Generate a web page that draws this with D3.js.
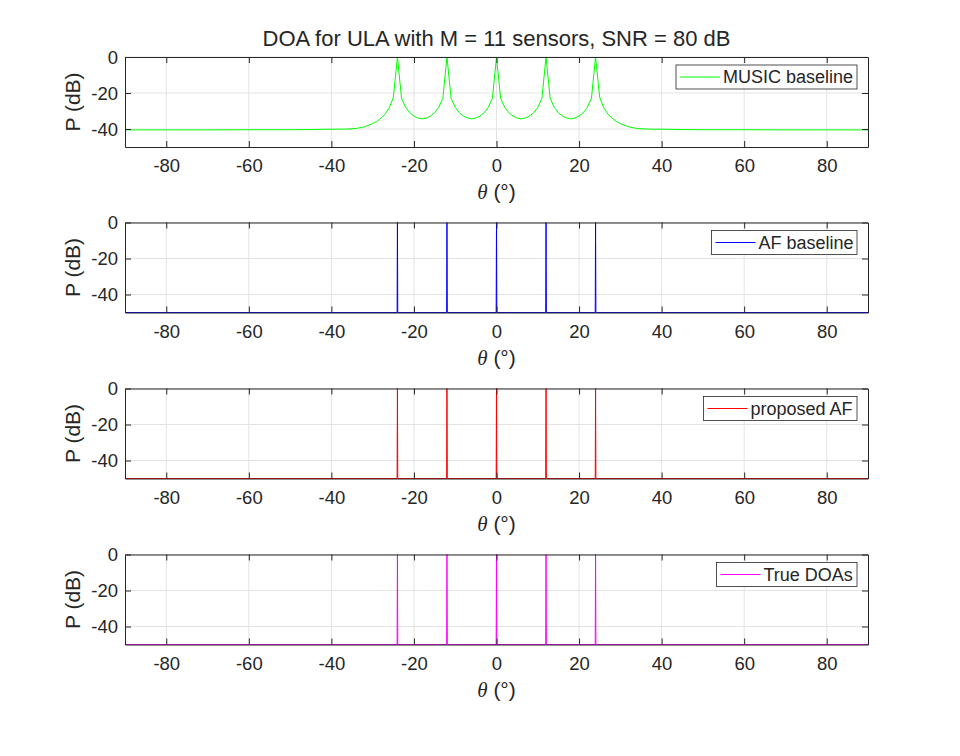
<!DOCTYPE html>
<html>
<head>
<meta charset="utf-8">
<script src="https://cdn.jsdelivr.net/npm/d3@7"></script>
<style>
  body { margin: 0; background: #fff; }
  svg text { font-family: "Liberation Sans", Arial, Helvetica, sans-serif; fill: #262626; }
</style>
</head>
<body>
<script>
// MUSIC pseudo-spectrum (deg, dB)
const musicTheta = [-90, -80, -70, -60, -50, -45, -40, -38, -36, -34, -32, -30, -29, -28, -27, -26, -25, -24,
  -23, -22, -21, -20, -19, -18, -17, -16, -15, -14, -13, -12,
  -11, -10, -9, -8, -7, -6, -5, -4, -3, -2, -1, 0,
  1, 2, 3, 4, 5, 6, 7, 8, 9, 10, 11, 12,
  13, 14, 15, 16, 17, 18, 19, 20, 21, 22, 23, 24,
  25, 26, 27, 28, 29, 30, 32, 34, 36, 38, 40, 45, 50, 60, 70, 80, 90];
const musicP = [-40.5, -40.5, -40.5, -40.4, -40.4, -40.3, -40.1, -40.1, -40.0, -39.7, -38.8, -37.0, -35.8, -34.0, -31.8, -28.3, -22.5, 0,
  -23, -28, -31, -32.8, -33.9, -34.4, -33.9, -32.8, -31, -28, -23, 0,
  -23, -28, -31, -32.8, -33.9, -34.4, -33.9, -32.8, -31, -28, -23, 0,
  -23, -28, -31, -32.8, -33.9, -34.4, -33.9, -32.8, -31, -28, -23, 0,
  -23, -28, -31, -32.8, -33.9, -34.4, -33.9, -32.8, -31, -28, -23, 0,
  -22.5, -28.3, -31.8, -34.0, -35.8, -37.0, -38.8, -39.7, -40.0, -40.1, -40.1, -40.3, -40.4, -40.4, -40.5, -40.5, -40.5];

// spike spectra: peak at each DOA, floor elsewhere
const afBaselineDoas = [-24, -12, 0, 12, 24];
const proposedAfDoas = [-24, -12, 0, 12, 24];
const trueDoas = [-24, -12, 0, 12, 24];
const floorDb = -50;
const peakDb = 0;

const xTicks = [-80, -60, -40, -20, 0, 20, 40, 60, 80];
const yTicks = [-40, -20, 0];

const w = 960, h = 756;
const left = 125, right = 868;
const tops = [57, 222.5, 388.5, 554.5];
const ph = 90;

function spikes(doas) {
  let pts = [[-90, floorDb]];
  doas.forEach(d => {
    pts.push([d - 0.08, floorDb]);
    pts.push([d, peakDb]);
    pts.push([d + 0.08, floorDb]);
  });
  pts.push([90, floorDb]);
  return pts;
}

const panels = [
  { name: "MUSIC baseline", color: "#00ff00", data: musicTheta.map((t, i) => [t, musicP[i]]), legX: 676 },
  { name: "AF baseline", color: "#0000ff", data: spikes(afBaselineDoas), legX: 711.5 },
  { name: "proposed AF", color: "#ff0000", data: spikes(proposedAfDoas), legX: 703.5 },
  { name: "True DOAs", color: "#ff00ff", data: spikes(trueDoas), legX: 716.5 }
];

const svg = d3.select("body").append("svg")
  .attr("width", w)
  .attr("height", h);

let xScale = d3.scaleLinear().domain([-90, 90]).range([left, right]);
const fmt = d => String(d);

svg.append("text")
  .attr("x", (left + right) / 2)
  .attr("y", 46)
  .attr("text-anchor", "middle")
  .style("font-size", "22px")
  .text("DOA for ULA with M = 11 sensors, SNR = 80 dB");

panels.forEach((p, k) => {
  const top = tops[k];
  let yScale = d3.scaleLinear().domain([-50, 0]).range([top + ph, top]);
  const g = svg.append("g");

  // grid
  g.selectAll(".gx").data(xTicks).enter().append("line")
    .attr("x1", d => xScale(d)).attr("x2", d => xScale(d))
    .attr("y1", top).attr("y2", top + ph)
    .attr("stroke", "#e3e3e3").attr("stroke-width", 1);
  g.selectAll(".gy").data(yTicks).enter().append("line")
    .attr("x1", left).attr("x2", right)
    .attr("y1", d => yScale(d)).attr("y2", d => yScale(d))
    .attr("stroke", "#e3e3e3").attr("stroke-width", 1);

  // curve
  g.append("path")
    .datum(p.data)
    .attr("fill", "none")
    .attr("stroke", p.color)
    .attr("stroke-width", 1)
    .attr("d", d3.line().x(d => xScale(d[0])).y(d => yScale(d[1])));

  // axes (box, inward ticks)
  const axB = g.append("g").attr("transform", "translate(0," + (top + ph) + ")")
    .call(d3.axisBottom(xScale).tickValues(xTicks).tickSizeInner(-6).tickSizeOuter(0).tickPadding(12).tickFormat(fmt));
  const axT = g.append("g").attr("transform", "translate(0," + top + ")")
    .call(d3.axisTop(xScale).tickValues(xTicks).tickSizeInner(-6).tickSizeOuter(0).tickFormat(""));
  const axL = g.append("g").attr("transform", "translate(" + left + ",0)")
    .call(d3.axisLeft(yScale).tickValues(yTicks).tickSizeInner(-6).tickSizeOuter(0).tickPadding(7).tickFormat(fmt));
  const axR = g.append("g").attr("transform", "translate(" + right + ",0)")
    .call(d3.axisRight(yScale).tickValues(yTicks).tickSizeInner(-6).tickSizeOuter(0).tickFormat(""));
  [axB, axT, axL, axR].forEach(a => {
    a.select(".domain").attr("stroke", "#262626").attr("stroke-width", 1);
    a.selectAll(".tick line").attr("stroke", "#262626");
    a.selectAll("text").style("font-size", "18.5px").attr("fill", "#262626")
      .style("font-family", '"Liberation Sans", Arial, sans-serif');
  });
  axB.selectAll("text").attr("dy", "0.71em");
  axL.selectAll("text").attr("dy", "0.35em");

  // y label
  g.append("text")
    .attr("transform", "translate(80," + (top + ph / 2) + ") rotate(-90)")
    .attr("text-anchor", "middle")
    .style("font-size", "21px")
    .text("P (dB)");

  // x label
  const xl = g.append("text")
    .attr("x", (left + right) / 2)
    .attr("y", top + ph + 52)
    .attr("text-anchor", "middle")
    .style("font-size", "21px");
  xl.append("tspan").style("font-family", '"Liberation Serif", "DejaVu Serif", serif')
    .style("font-style", "italic").text("θ");
  xl.append("tspan").text(" (°)");

  // legend
  const lx = p.legX, ly = top + 8, lw = 857 - p.legX, lh = 24;
  g.append("rect")
    .attr("x", lx).attr("y", ly).attr("width", lw).attr("height", lh)
    .attr("fill", "#fff").attr("stroke", "#262626").attr("stroke-width", 0.8);
  g.append("line")
    .attr("x1", lx + 4).attr("x2", lx + 44)
    .attr("y1", ly + lh / 2).attr("y2", ly + lh / 2)
    .attr("stroke", p.color).attr("stroke-width", 1);
  g.append("text")
    .attr("x", lx + 47)
    .attr("y", ly + lh / 2)
    .attr("dy", "0.35em")
    .style("font-size", "18px")
    .text(p.name);
});
</script>
</body>
</html>
